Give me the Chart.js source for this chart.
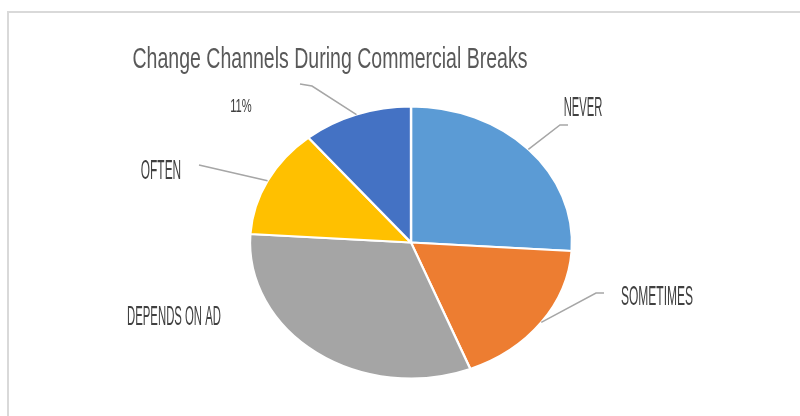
<!DOCTYPE html>
<html>
<head>
<meta charset="utf-8">
<script src="https://cdn.jsdelivr.net/npm/chart.js@4/dist/chart.umd.min.js"></script>
<style>
  html, body { margin: 0; padding: 0; background: #ffffff; }
  #wrap { width: 800px; height: 416px; position: relative; }
</style>
</head>
<body>
<div id="wrap"><canvas id="chart" width="800" height="416"></canvas></div>
<script>
// Survey answers, clockwise from 12 o'clock
const categories = ['NEVER', 'SOMETIMES', 'DEPENDS ON AD', 'OFTEN', ''];
const shares = [26, 18, 32, 13, 11];
const sliceColors = ['#5B9BD5', '#ED7D31', '#A5A5A5', '#FFC000', '#4472C4'];
const chartTitle = 'Change Channels During Commercial Breaks';

// Label placement: text centre, squeeze, font size and leader bends
const labelLayout = [
  { at: [583, 108], size: 28, squeeze: 0.40, bends: [[560, 125], [568, 125]] },
  { at: [657, 297], size: 28, squeeze: 0.43, bends: [[596, 293], [604, 293]] },
  { at: [174, 318], size: 27, squeeze: 0.42, bends: null },
  { at: [161, 172], size: 27, squeeze: 0.44, bends: [[199, 165]] },
  { at: [241, 107], size: 18, squeeze: 0.62, bends: [[312, 86], [300, 84]] }
];

// Horizontal stretch that turns the round pie into the wide oval
const ovalStretch = 161 / 136;

function squeezedText(ctx, text, x, y, size, squeeze, color) {
  ctx.save();
  ctx.translate(x, y);
  ctx.scale(squeeze, 1);
  ctx.font = size + 'px "Liberation Sans", Arial, sans-serif';
  ctx.fillStyle = color;
  ctx.textAlign = 'center';
  ctx.textBaseline = 'middle';
  ctx.fillText(text, 0, 0);
  ctx.restore();
}

const frame = {
  id: 'frame',
  beforeDraw(chart) {
    const ctx = chart.ctx;
    ctx.save();
    ctx.strokeStyle = '#d9d9d9';
    ctx.lineWidth = 2;
    ctx.beginPath();
    ctx.moveTo(8, 416);
    ctx.lineTo(8, 12);
    ctx.lineTo(800, 12);
    ctx.stroke();
    ctx.restore();
  }
};

const oval = {
  id: 'oval',
  beforeDatasetsDraw(chart) {
    const arc = chart.getDatasetMeta(0).data[0];
    const ctx = chart.ctx;
    ctx.save();
    ctx.translate(arc.x, 0);
    ctx.scale(ovalStretch, 1);
    ctx.translate(-arc.x, 0);
  },
  afterDatasetsDraw(chart) {
    chart.ctx.restore();
  }
};

const sliceLabels = {
  id: 'sliceLabels',
  afterDraw(chart) {
    const ctx = chart.ctx;
    const meta = chart.getDatasetMeta(0);
    const total = shares.reduce((a, b) => a + b, 0);

    // Title, drawn narrow
    ctx.save();
    ctx.font = '30px "Liberation Sans", Arial, sans-serif';
    const w = ctx.measureText(chartTitle).width;
    ctx.restore();
    squeezedText(ctx, chartTitle, 330, 60, 30, 395 / w, '#595959');

    meta.data.forEach((arc, i) => {
      const lay = labelLayout[i];
      const mid = (arc.startAngle + arc.endAngle) / 2;
      const ex = arc.x + Math.cos(mid) * arc.outerRadius * ovalStretch;
      const ey = arc.y + Math.sin(mid) * arc.outerRadius;
      if (lay.bends) {
        ctx.save();
        ctx.strokeStyle = '#a6a6a6';
        ctx.lineWidth = 1.5;
        ctx.beginPath();
        ctx.moveTo(ex, ey);
        lay.bends.forEach(p => ctx.lineTo(p[0], p[1]));
        ctx.stroke();
        ctx.restore();
      }
      const text = categories[i] || Math.round(shares[i] / total * 100) + '%';
      squeezedText(ctx, text, lay.at[0], lay.at[1], lay.size, lay.squeeze, '#404040');
    });
  }
};

new Chart(document.getElementById('chart'), {
  type: 'pie',
  data: {
    labels: categories,
    datasets: [{
      data: shares,
      backgroundColor: sliceColors,
      borderColor: '#ffffff',
      borderWidth: 2
    }]
  },
  options: {
    responsive: false,
    animation: false,
    layout: { padding: { top: 105.5, bottom: 36.5, left: 274, right: 252 } },
    plugins: {
      legend: { display: false },
      title: { display: false },
      tooltip: { enabled: false }
    }
  },
  plugins: [frame, oval, sliceLabels]
});
</script>
</body>
</html>
